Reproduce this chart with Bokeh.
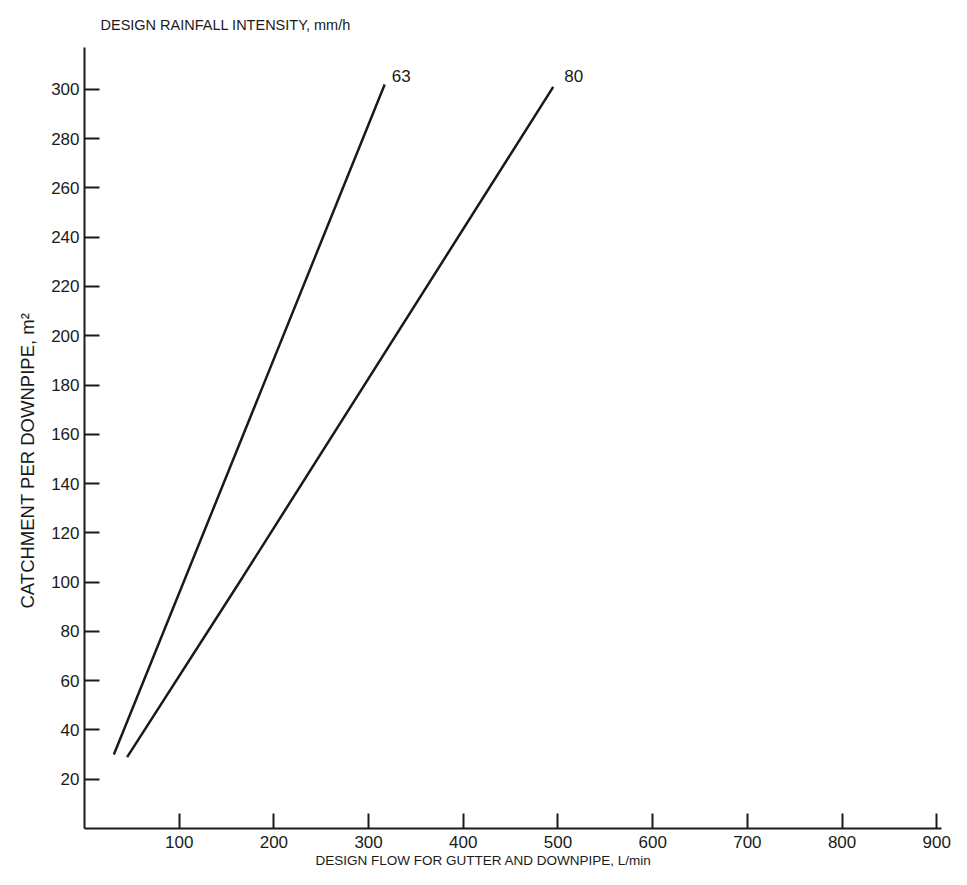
from bokeh.plotting import figure
from bokeh.models import Range1d, FixedTicker, Title
from bokeh.core.properties import value
from bokeh.embed import file_html
from bokeh.resources import INLINE

# Data
flow_63 = [31, 192, 317]
catch_63 = [30, 183, 302]
flow_80 = [45, 167, 495]
catch_80 = [29, 102, 301]
series_labels = ["63", "80"]
x_ticks = [100, 200, 300, 400, 500, 600, 700, 800, 900]
y_ticks = [20, 40, 60, 80, 100, 120, 140, 160, 180, 200, 220, 240, 260, 280, 300]

FONT = "Liberation Sans"
INK = "#1a1a1a"

p = figure(width=951, height=869, output_backend="svg", toolbar_location=None,
           x_range=Range1d(0, 905), y_range=Range1d(0, 317))
p.min_border_left = 84
p.min_border_right = 10
p.min_border_top = 46
p.min_border_bottom = 41
p.outline_line_color = None
p.background_fill_color = "white"
p.border_fill_color = "white"
p.xgrid.visible = False
p.ygrid.visible = False

for ax in (p.xaxis[0], p.yaxis[0]):
    ax.axis_line_width = 2
    ax.axis_line_color = INK
    ax.major_tick_line_width = 2
    ax.major_tick_line_color = INK
    ax.major_tick_in = 15
    ax.major_tick_out = 0
    ax.minor_tick_line_color = None
    ax.major_label_text_font = FONT
    ax.major_label_text_font_size = "17px"
    ax.major_label_text_color = INK

p.xaxis.ticker = FixedTicker(ticks=x_ticks)
p.yaxis.ticker = FixedTicker(ticks=y_ticks)
p.xaxis.major_label_standoff = 7
p.yaxis.major_label_standoff = 5

p.line(flow_63, catch_63, line_color=INK, line_width=2.5)
p.line(flow_80, catch_80, line_color=INK, line_width=2.5)

p.text(x=[flow_63[-1]], y=[catch_63[-1]], text=[series_labels[0]],
       text_font=value(FONT), text_font_size="17px", text_color=INK,
       text_baseline="bottom", text_align="left", x_offset=7, y_offset=-2)
p.text(x=[flow_80[-1]], y=[catch_80[-1]], text=[series_labels[1]],
       text_font=value(FONT), text_font_size="17px", text_color=INK,
       text_baseline="bottom", text_align="left", x_offset=11, y_offset=-5)

p.add_layout(Title(text="DESIGN RAINFALL INTENSITY, mm/h", align="left", offset=16,
                   standoff=29, text_font=FONT, text_font_size="14.5px",
                   text_font_style="normal", text_color=INK), "above")
p.add_layout(Title(text="CATCHMENT PER DOWNPIPE, m²", align="left", offset=220,
                   standoff=22, text_font=FONT, text_font_size="18.5px",
                   text_font_style="normal", text_color=INK), "left")
p.add_layout(Title(text="DESIGN FLOW FOR GUTTER AND DOWNPIPE, L/min", align="left",
                   offset=231, standoff=0, text_font=FONT, text_font_size="13.5px",
                   text_font_style="normal", text_color=INK), "below")

open("out.html", "w").write(file_html(p, INLINE))
